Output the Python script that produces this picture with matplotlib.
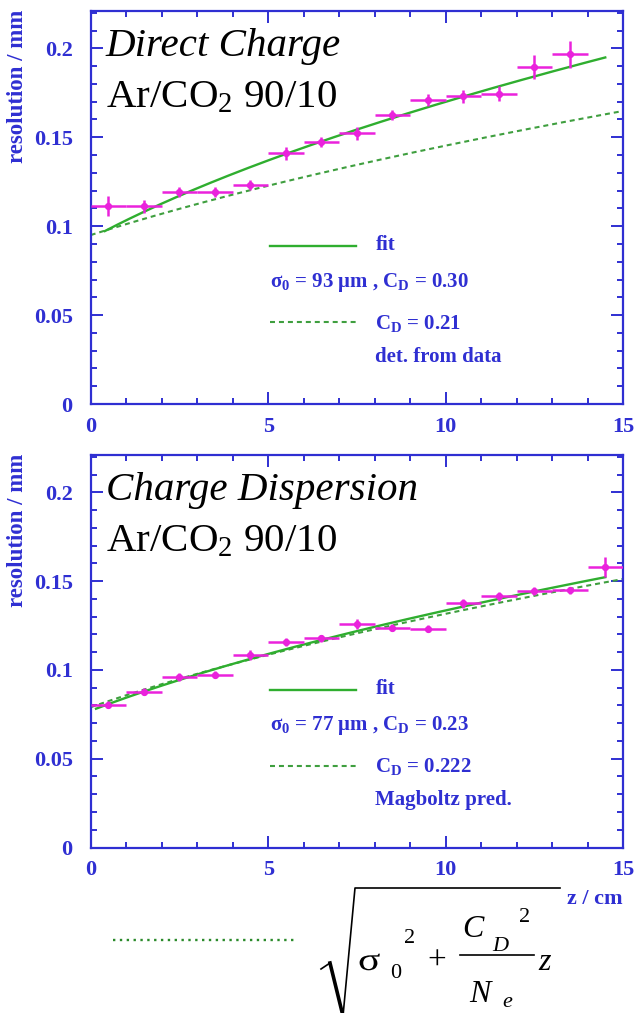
import numpy as np
import matplotlib
matplotlib.use("Agg")
import matplotlib.pyplot as plt
from matplotlib.ticker import FixedLocator, MultipleLocator
from matplotlib.lines import Line2D
from matplotlib.textpath import TextPath
from matplotlib.patches import PathPatch
from matplotlib.font_manager import FontProperties
from matplotlib.transforms import Affine2D

plt.rcParams['font.family'] = ['Liberation Serif', 'DejaVu Serif']
plt.rcParams['mathtext.fontset'] = 'custom'
plt.rcParams['mathtext.rm'] = 'Liberation Serif'
plt.rcParams['mathtext.it'] = 'Liberation Serif:italic'
plt.rcParams['mathtext.bf'] = 'Liberation Serif:bold'

# ---------------- measured resolution vs drift distance ----------------
z_bin_halfwidth = 0.5

direct_z = [0.5, 1.5, 2.5, 3.5, 4.5, 5.5, 6.5, 7.5, 8.5, 9.5, 10.5, 11.5, 12.5, 13.5]
direct_res = [0.1112, 0.1112, 0.1190, 0.1190, 0.1230, 0.1410, 0.1476, 0.1522,
              0.1625, 0.1710, 0.1731, 0.1746, 0.1895, 0.1966]
direct_err = [0.0056, 0.0037, 0.0028, 0.0028, 0.0028, 0.0037, 0.0028, 0.0037,
              0.0028, 0.0034, 0.0037, 0.0041, 0.0066, 0.0075]

disp_z = [0.5, 1.5, 2.5, 3.5, 4.5, 5.5, 6.5, 7.5, 8.5, 9.5, 10.5, 11.5, 12.5, 13.5, 14.5]
disp_res = [0.0805, 0.0876, 0.0959, 0.0972, 0.1083, 0.1158, 0.1177, 0.1261,
            0.1237, 0.1233, 0.1374, 0.1414, 0.1444, 0.1448, 0.1578]
disp_err = [0.0020, 0.0020, 0.0022, 0.0020, 0.0028, 0.0024, 0.0022, 0.0028,
            0.0020, 0.0022, 0.0024, 0.0024, 0.0022, 0.0020, 0.0056]

# ---------------- model curves: sqrt(sigma0^2 + CD^2/Ne * z) ----------------
direct_fit_sigma0, direct_fit_cd, direct_fit_ne = 0.093, 0.30, 44.5
direct_fit_range = (0.4, 14.5)
direct_data_sigma0, direct_data_cd, direct_data_ne = 0.095, 0.21, 36.5
direct_data_range = (0.0, 15.0)

disp_fit_sigma0, disp_fit_cd, disp_fit_ne = 0.077, 0.23, 44.5
disp_fit_range = (0.15, 14.5)
disp_mag_sigma0, disp_mag_cd, disp_mag_ne = 0.079, 0.222, 44.5
disp_mag_range = (0.0, 15.0)

x_ticks = [0, 5, 10, 15]
x_ticklabels = ['0', '5', '10', '15']
y_ticks = [0, 0.05, 0.1, 0.15, 0.2]
y_ticklabels = ['0', '0.05', '0.1', '0.15', '0.2']

BLUE = '#2f2fd2'
MAGENTA = '#ea22dc'
GREEN = '#2fae2f'
GREEN_D = '#3f9f3f'

W, H = 635, 1013
fig = plt.figure(figsize=(W / 100, H / 100), dpi=100)
fig.patch.set_facecolor('white')


def fx(x):
    return x / W


def fy(y):
    return 1 - y / H


def resolution(z, sigma0, cd, ne):
    return np.sqrt(sigma0 ** 2 + cd ** 2 / ne * z)


def style_axes(ax):
    ax.set_xlim(0, 15)
    ax.set_ylim(0, 0.221)
    for sp in ax.spines.values():
        sp.set_color(BLUE)
        sp.set_linewidth(1.6)
    ax.xaxis.set_major_locator(FixedLocator(x_ticks))
    ax.set_xticklabels(x_ticklabels)
    ax.yaxis.set_major_locator(FixedLocator(y_ticks))
    ax.set_yticklabels(y_ticklabels)
    ax.xaxis.set_minor_locator(MultipleLocator(1))
    ax.yaxis.set_minor_locator(MultipleLocator(0.01))
    ax.tick_params(which='both', direction='in', top=True, right=True,
                   color=BLUE, width=1.4)
    ax.tick_params(which='major', length=8.5)
    ax.tick_params(which='minor', length=4.5)
    ax.tick_params(axis='x', which='major', pad=9, labelsize=16, labelcolor=BLUE)
    ax.tick_params(axis='y', which='major', pad=13, labelsize=16, labelcolor=BLUE)
    for lab in ax.get_xticklabels() + ax.get_yticklabels():
        lab.set_fontweight('bold')


def draw_panel(ax, z, res, err, fit, other, title, leg_lines):
    zf = np.linspace(fit[4][0], fit[4][1], 200)
    zo = np.linspace(other[4][0], other[4][1], 200)
    ax.plot(zo, resolution(zo, *other[:3]), color=GREEN_D, lw=1.5,
            linestyle=(0, (2.4, 1.9)), zorder=2)
    ax.plot(zf, resolution(zf, *fit[:3]), color=GREEN, lw=1.7, zorder=3)
    ax.errorbar(z, res, xerr=z_bin_halfwidth, yerr=err, fmt='o', ms=4.2,
                color=MAGENTA, ecolor=MAGENTA, elinewidth=1.8, capsize=0,
                zorder=4)
    style_axes(ax)
    ax.text(0.028, 0.885, title, transform=ax.transAxes, fontsize=29.5,
            style='italic', color='black', ha='left', va='baseline')
    ax.text(0.028, 0.755, r'Ar/CO$_2$ 90/10', transform=ax.transAxes,
            fontsize=29.5, color='black', ha='left', va='baseline')
    # legend block
    ax.plot([0.336, 0.499], [0.402, 0.402], transform=ax.transAxes,
            color=GREEN, lw=1.7)
    ax.plot([0.336, 0.499], [0.208, 0.208], transform=ax.transAxes,
            color=GREEN_D, lw=1.5, linestyle=(0, (2.4, 1.9)))
    tk = dict(transform=ax.transAxes, fontsize=15, fontweight='bold',
              color=BLUE, va='center', ha='left')
    ax.text(0.535, 0.404, leg_lines[0], **tk)
    ax.text(0.336, 0.310, leg_lines[1], **tk)
    ax.text(0.535, 0.206, leg_lines[2], **tk)
    ax.text(0.535, 0.120, leg_lines[3], **tk)


ax1 = fig.add_axes([fx(90.7), fy(404), fx(623) - fx(90.7), fy(11) - fy(404)])
ax2 = fig.add_axes([fx(90.7), fy(847.5), fx(623) - fx(90.7), fy(455) - fy(847.5)])

draw_panel(ax1, direct_z, direct_res, direct_err,
           (direct_fit_sigma0, direct_fit_cd, direct_fit_ne, None, direct_fit_range),
           (direct_data_sigma0, direct_data_cd, direct_data_ne, None, direct_data_range),
           'Direct Charge',
           ['fit',
            r'σ$_\mathbf{0}$ = 93 μm , C$_\mathbf{D}$ = 0.30',
            r'C$_\mathbf{D}$ = 0.21',
            'det. from data'])
draw_panel(ax2, disp_z, disp_res, disp_err,
           (disp_fit_sigma0, disp_fit_cd, disp_fit_ne, None, disp_fit_range),
           (disp_mag_sigma0, disp_mag_cd, disp_mag_ne, None, disp_mag_range),
           'Charge Dispersion',
           ['fit',
            r'σ$_\mathbf{0}$ = 77 μm , C$_\mathbf{D}$ = 0.23',
            r'C$_\mathbf{D}$ = 0.222',
            'Magboltz pred.'])

# axis titles
for top in (10, 454):
    fig.text(fx(18), fy(top), 'resolution / mm', rotation=90, ha='center',
             va='top', fontsize=16.5, fontweight='bold', color=BLUE)
fig.text(fx(623), fy(899), 'z / cm', ha='right', va='center', fontsize=16,
         fontweight='bold', color=BLUE)

# dotted key line and the resolution formula
fig.add_artist(Line2D([fx(113), fx(297)], [fy(940), fy(940)], color='#2a8a2a',
                      lw=1.7, linestyle=(0, (1.0, 1.9))))

# wide sigma glyph, drawn as a horizontally stretched outline
sigma_path = TextPath((0, 0), 'σ', size=32,
                      prop=FontProperties(family='Liberation Serif'))
fig.add_artist(PathPatch(sigma_path, facecolor='black', edgecolor='none',
                         transform=Affine2D().scale(1.3, 1.0)
                         .translate(358, H - 970)))

sym = dict(color='black', va='baseline', ha='left')
fig.text(fx(390), fy(978), '0', fontsize=16, **sym)
fig.text(fx(404), fy(943), '2', fontsize=16, **sym)
fig.text(fx(437), fy(961), '+', fontsize=24, color='black', ha='center', va='center')
fig.text(fx(462), fy(937), 'C', fontsize=23, style='italic', **sym)
fig.text(fx(492), fy(951), 'D', fontsize=16, style='italic', **sym)
fig.text(fx(519), fy(922), '2', fontsize=16, **sym)
fig.text(fx(469), fy(1002), 'N', fontsize=23, style='italic', **sym)
fig.text(fx(502), fy(1007), 'e', fontsize=16, style='italic', **sym)
fig.text(fx(538), fy(970), 'z', fontsize=23, style='italic', **sym)

# fraction bar and radical sign
fig.add_artist(Line2D([fx(460), fx(534)], [fy(955), fy(955)], color='black', lw=1.2))
fig.add_artist(Line2D([fx(321), fx(330)], [fy(969), fy(963)], color='black', lw=1.2))
fig.add_artist(Line2D([fx(330), fx(343)], [fy(963), fy(1016)], color='black', lw=2.6))
fig.add_artist(Line2D([fx(343), fx(355), fx(560)], [fy(1016), fy(888), fy(888)],
                      color='black', lw=1.2))

fig.savefig('out.png', dpi=100, facecolor='white')
